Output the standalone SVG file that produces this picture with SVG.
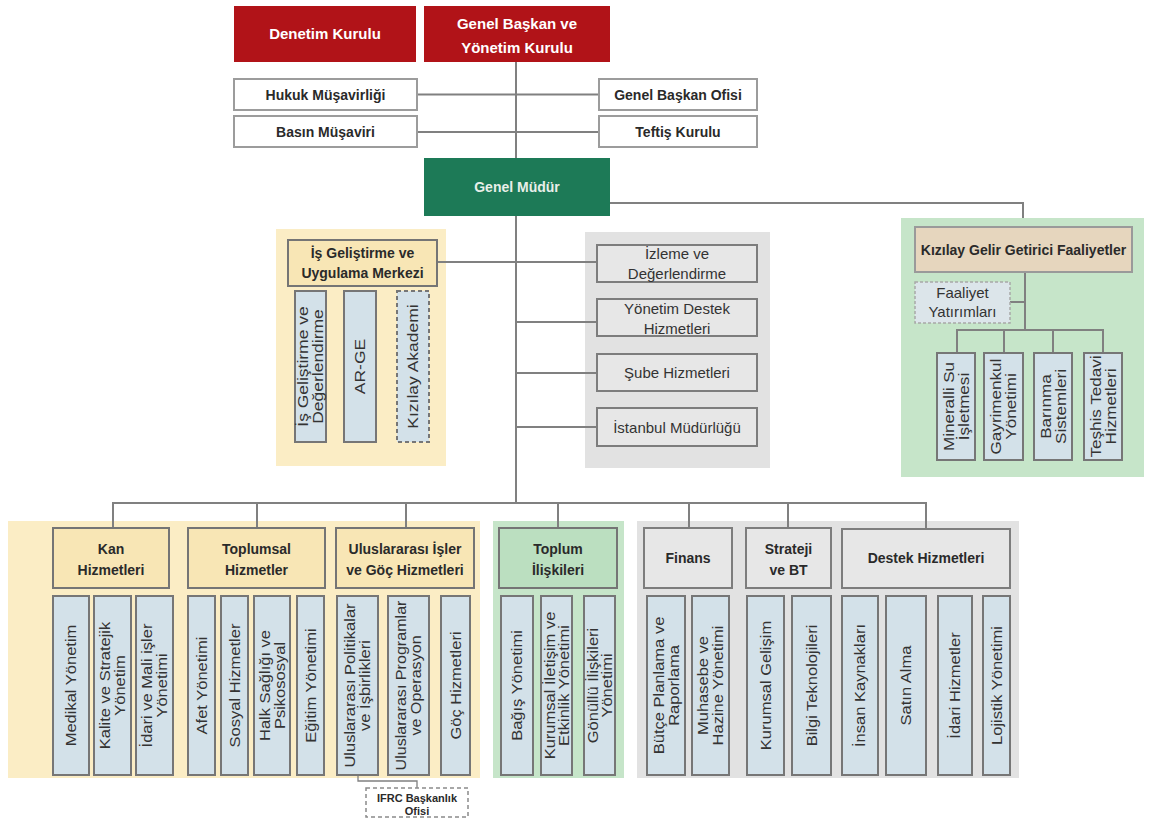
<svg xmlns="http://www.w3.org/2000/svg" width="1155" height="824" viewBox="0 0 1155 824">
<style>
text{font-family:"Liberation Sans",Arial,"DejaVu Sans",sans-serif;text-anchor:middle;fill:#2a2a2a}
.b{font-weight:bold;font-size:14px}
.bw{font-weight:bold;font-size:15px;fill:#ffffff}
.gmt{font-weight:bold;font-size:14px;fill:#e8efe9}
.r{font-size:15px;fill:#333}
.v{font-size:14px;fill:#333}
.sm{font-weight:bold;font-size:11px}
.red{fill:#B11318}
.gm{fill:#1D7A57}
.wt{fill:#ffffff;stroke:#9c9c9c;stroke-width:2}
.yp{fill:#FBEDC5}
.yh{fill:#F8E6B5;stroke:#757575;stroke-width:2}
.gp{fill:#E2E2E2}
.gb{fill:#E7E7E7;stroke:#7d7d7d;stroke-width:2}
.grp{fill:#C6E5C9}
.grh{fill:#BBDFC0;stroke:#757575;stroke-width:2}
.tan{fill:#E6D6BE;stroke:#9a9a9a;stroke-width:2}
.vb{fill:#D3E1E9;stroke:#767676;stroke-width:2}
.dash{stroke-dasharray:4 3}
.fy{fill:#DCE5EA;stroke:#a8a8a8;stroke-width:1.5;stroke-dasharray:3 2}
.ifrc{fill:#ffffff;stroke:#8a8a8a;stroke-width:1.5;stroke-dasharray:4 3}
.ln{fill:none;stroke:#808080;stroke-width:2}
.lt{fill:none;stroke:#808080;stroke-width:1.3}
</style>
<rect width="1155" height="824" fill="#ffffff"/>

<g id="panels">
<rect class="yp" x="276" y="229" width="170" height="237"/>
<rect class="gp" x="585" y="232" width="185" height="236"/>
<rect class="grp" x="901" y="218" width="243" height="259"/>
<rect class="yp" x="8" y="521" width="472" height="257"/>
<rect class="grp" x="493" y="521" width="131" height="257"/>
<rect class="gp" x="637" y="521" width="382" height="257"/>
</g>

<g id="connectors">
<path class="ln" d="M516 62V158M516 216V503M417 94.5H599M417 132H599M516 203H1023V218M437 262H597M516 322H597M516 373H597M516 427H597"/>
<path class="ln" d="M113 528V503H926V529M257 503V528M406 503V528M558 503V528M689 503V528M788 503V528"/>
<path class="ln" d="M1025 272V330M1010 302H1025M957 353V330H1103V353M1004 330V353M1053 330V353"/>
<path class="lt" d="M358 775V781H417V788"/>
</g>

<g id="denetim-kurulu"><rect class="red" x="234" y="6" width="182" height="56"/><text class="bw" x="325" y="39">Denetim Kurulu</text></g>
<g id="genel-baskan"><rect class="red" x="424" y="6" width="186" height="56"/><text class="bw"><tspan x="517" y="29">Genel Başkan ve</tspan><tspan x="517" y="53">Yönetim Kurulu</tspan></text></g>
<g id="hukuk"><rect class="wt" x="234" y="79" width="183" height="31"/><text class="b" x="325.5" y="100">Hukuk Müşavirliği</text></g>
<g id="basin"><rect class="wt" x="234" y="116" width="183" height="31"/><text class="b" x="325.5" y="137">Basın Müşaviri</text></g>
<g id="gb-ofisi"><rect class="wt" x="599" y="79" width="158" height="31"/><text class="b" x="678" y="100">Genel Başkan Ofisi</text></g>
<g id="teftis"><rect class="wt" x="599" y="116" width="158" height="31"/><text class="b" x="678" y="137">Teftiş Kurulu</text></g>
<g id="genel-mudur"><rect class="gm" x="424" y="158" width="186" height="58"/><text class="gmt" x="517" y="192">Genel Müdür</text></g>

<g id="is-gelistirme"><rect class="yh" x="288" y="240" width="149" height="46"/><text class="b"><tspan x="362.5" y="258">İş Geliştirme ve</tspan><tspan x="362.5" y="278">Uygulama Merkezi</tspan></text></g>
<g id="is-gel-deg"><rect class="vb" x="295" y="291" width="31" height="151"/><text class="v" transform="translate(310.5,366.5) rotate(-90) scale(1.25,1)"><tspan x="0" y="-2.5">İş Geliştirme ve</tspan><tspan x="0" y="12.5">Değerlendirme</tspan></text></g>
<g id="ar-ge"><rect class="vb" x="344" y="291" width="32" height="151"/><text class="v" transform="translate(360,366.5) rotate(-90) scale(1.25,1)" x="0" y="5">AR-GE</text></g>
<g id="akademi"><rect class="vb dash" x="397" y="291" width="32" height="151"/><text class="v" transform="translate(413,366.5) rotate(-90) scale(1.25,1)" x="0" y="5">Kızılay Akademi</text></g>

<g id="izleme"><rect class="gb" x="597" y="245" width="160" height="37"/><text class="r"><tspan x="677" y="258.5">İzleme ve</tspan><tspan x="677" y="278.5">Değerlendirme</tspan></text></g>
<g id="yonetim-destek"><rect class="gb" x="597" y="299" width="160" height="37"/><text class="r"><tspan x="677" y="314">Yönetim Destek</tspan><tspan x="677" y="333.5">Hizmetleri</tspan></text></g>
<g id="sube"><rect class="gb" x="597" y="354" width="160" height="37"/><text class="r" x="677" y="378">Şube Hizmetleri</text></g>
<g id="istanbul"><rect class="gb" x="597" y="408" width="160" height="38"/><text class="r" x="677" y="432.5">İstanbul Müdürlüğü</text></g>

<g id="gelir-getirici"><rect class="tan" x="915" y="227" width="217" height="45"/><text class="b" x="1023.5" y="255">Kızılay Gelir Getirici Faaliyetler</text></g>
<g id="faaliyet"><rect class="fy" x="915" y="282" width="95" height="41"/><text class="r"><tspan x="962.5" y="298">Faaliyet</tspan><tspan x="962.5" y="317">Yatırımları</tspan></text></g>
<g id="mineralli"><rect class="vb" x="937" y="353" width="38" height="107"/><text class="v" transform="translate(956,406.5) rotate(-90) scale(1.22,1)"><tspan x="0" y="-2.5">Mineralli Su</tspan><tspan x="0" y="13">İşletmesi</tspan></text></g>
<g id="gayrimenkul"><rect class="vb" x="984" y="353" width="39" height="107"/><text class="v" transform="translate(1003.5,406.5) rotate(-90) scale(1.22,1)"><tspan x="0" y="-2.5">Gayrimenkul</tspan><tspan x="0" y="13">Yönetimi</tspan></text></g>
<g id="barinma"><rect class="vb" x="1034" y="353" width="38" height="107"/><text class="v" transform="translate(1053,406.5) rotate(-90) scale(1.22,1)"><tspan x="0" y="-2.5">Barınma</tspan><tspan x="0" y="13">Sistemleri</tspan></text></g>
<g id="teshis"><rect class="vb" x="1084" y="353" width="38" height="107"/><text class="v" transform="translate(1103,406.5) rotate(-90) scale(1.22,1)"><tspan x="0" y="-2.5">Teşhis Tedavi</tspan><tspan x="0" y="13">Hizmetleri</tspan></text></g>

<g id="kan"><rect class="yh" x="53" y="528" width="116" height="60"/><text class="b"><tspan x="111" y="554">Kan</tspan><tspan x="111" y="575">Hizmetleri</tspan></text></g>
<g id="toplumsal"><rect class="yh" x="188" y="528" width="137" height="60"/><text class="b"><tspan x="256.5" y="554">Toplumsal</tspan><tspan x="256.5" y="575">Hizmetler</tspan></text></g>
<g id="uluslararasi"><rect class="yh" x="336" y="528" width="138" height="60"/><text class="b"><tspan x="405" y="554">Uluslararası İşler</tspan><tspan x="405" y="575">ve Göç Hizmetleri</tspan></text></g>
<g id="toplum"><rect class="grh" x="499" y="528" width="118" height="60"/><text class="b"><tspan x="558" y="554">Toplum</tspan><tspan x="558" y="575">İlişkileri</tspan></text></g>
<g id="finans"><rect class="gb" x="644" y="528" width="88" height="60"/><text class="b" x="688" y="563">Finans</text></g>
<g id="strateji"><rect class="gb" x="746" y="528" width="85" height="60"/><text class="b"><tspan x="788.5" y="554">Strateji</tspan><tspan x="788.5" y="575">ve BT</tspan></text></g>
<g id="destek"><rect class="gb" x="842" y="529" width="168" height="59"/><text class="b" x="926" y="563">Destek Hizmetleri</text></g>

<g id="medikal"><rect class="vb" x="53" y="596" width="36" height="179"/><text class="v" transform="translate(71,685.5) rotate(-90) scale(1.18,1)" x="0" y="5">Medikal Yönetim</text></g>
<g id="kalite"><rect class="vb" x="94" y="596" width="37" height="179"/><text class="v" transform="translate(112.5,685.5) rotate(-90) scale(1.18,1)"><tspan x="0" y="-2.5">Kalite ve Stratejik</tspan><tspan x="0" y="12.5">Yönetim</tspan></text></g>
<g id="idari-mali"><rect class="vb" x="136" y="596" width="37" height="179"/><text class="v" transform="translate(154.5,685.5) rotate(-90) scale(1.18,1)"><tspan x="0" y="-2.5">İdari ve Mali işler</tspan><tspan x="0" y="12.5">Yönetimi</tspan></text></g>
<g id="afet"><rect class="vb" x="188" y="596" width="27" height="179"/><text class="v" transform="translate(201.5,685.5) rotate(-90) scale(1.18,1)" x="0" y="5">Afet Yönetimi</text></g>
<g id="sosyal"><rect class="vb" x="221" y="596" width="27" height="179"/><text class="v" transform="translate(234.5,685.5) rotate(-90) scale(1.18,1)" x="0" y="5">Sosyal Hizmetler</text></g>
<g id="halk-sagligi"><rect class="vb" x="254" y="596" width="36" height="179"/><text class="v" transform="translate(272,685.5) rotate(-90) scale(1.18,1)"><tspan x="0" y="-2.5">Halk Sağlığı ve</tspan><tspan x="0" y="12.5">Psikososyal</tspan></text></g>
<g id="egitim"><rect class="vb" x="297" y="596" width="27" height="179"/><text class="v" transform="translate(310.5,685.5) rotate(-90) scale(1.18,1)" x="0" y="5">Eğitim Yönetimi</text></g>
<g id="politikalar"><rect class="vb" x="337" y="596" width="41" height="179"/><text class="v" transform="translate(357.5,685.5) rotate(-90) scale(1.18,1)"><tspan x="0" y="-2.5">Uluslararası Politikalar</tspan><tspan x="0" y="12.5">ve İşbirlikleri</tspan></text></g>
<g id="programlar"><rect class="vb" x="388" y="596" width="41" height="179"/><text class="v" transform="translate(408.5,685.5) rotate(-90) scale(1.15,1)"><tspan x="0" y="-2.5">Uluslararası Programlar</tspan><tspan x="0" y="12.5">ve Operasyon</tspan></text></g>
<g id="goc"><rect class="vb" x="441" y="596" width="29" height="179"/><text class="v" transform="translate(455.5,685.5) rotate(-90) scale(1.18,1)" x="0" y="5">Göç Hizmetleri</text></g>
<g id="ifrc"><rect class="ifrc" x="366" y="788" width="102" height="29"/><text class="sm"><tspan x="417" y="802">IFRC Başkanlık</tspan><tspan x="417" y="815">Ofisi</tspan></text></g>

<g id="bagis"><rect class="vb" x="501" y="596" width="32" height="179"/><text class="v" transform="translate(517,685.5) rotate(-90) scale(1.18,1)" x="0" y="5">Bağış Yönetimi</text></g>
<g id="kurumsal-iletisim"><rect class="vb" x="541" y="596" width="31" height="179"/><text class="v" transform="translate(556.5,685.5) rotate(-90) scale(1.18,1)"><tspan x="0" y="-2">Kurumsal İletişim ve</tspan><tspan x="0" y="12">Etkinlik Yönetimi</tspan></text></g>
<g id="gonullu"><rect class="vb" x="584" y="596" width="31" height="179"/><text class="v" transform="translate(599.5,685.5) rotate(-90) scale(1.18,1)"><tspan x="0" y="-2">Gönüllü İlişkileri</tspan><tspan x="0" y="12">Yönetimi</tspan></text></g>

<g id="butce"><rect class="vb" x="647" y="596" width="38" height="179"/><text class="v" transform="translate(666,685.5) rotate(-90) scale(1.18,1)"><tspan x="0" y="-2.5">Bütçe Planlama ve</tspan><tspan x="0" y="12.5">Raporlama</tspan></text></g>
<g id="muhasebe"><rect class="vb" x="692" y="596" width="37" height="179"/><text class="v" transform="translate(710.5,685.5) rotate(-90) scale(1.18,1)"><tspan x="0" y="-2.5">Muhasebe ve</tspan><tspan x="0" y="12.5">Hazine Yönetimi</tspan></text></g>
<g id="kurumsal-gelisim"><rect class="vb" x="747" y="596" width="37" height="179"/><text class="v" transform="translate(765.5,685.5) rotate(-90) scale(1.18,1)" x="0" y="5">Kurumsal Gelişim</text></g>
<g id="bilgi"><rect class="vb" x="792" y="596" width="39" height="179"/><text class="v" transform="translate(811.5,685.5) rotate(-90) scale(1.18,1)" x="0" y="5">Bilgi Teknolojileri</text></g>
<g id="insan"><rect class="vb" x="842" y="596" width="36" height="179"/><text class="v" transform="translate(860,685.5) rotate(-90) scale(1.18,1)" x="0" y="5">İnsan Kaynakları</text></g>
<g id="satin"><rect class="vb" x="886" y="596" width="40" height="179"/><text class="v" transform="translate(906,685.5) rotate(-90) scale(1.18,1)" x="0" y="5">Satın Alma</text></g>
<g id="idari-hiz"><rect class="vb" x="938" y="596" width="34" height="179"/><text class="v" transform="translate(955,685.5) rotate(-90) scale(1.18,1)" x="0" y="5">İdari Hizmetler</text></g>
<g id="lojistik"><rect class="vb" x="983" y="596" width="27" height="179"/><text class="v" transform="translate(996.5,685.5) rotate(-90) scale(1.18,1)" x="0" y="5">Lojistik Yönetimi</text></g>
</svg>
